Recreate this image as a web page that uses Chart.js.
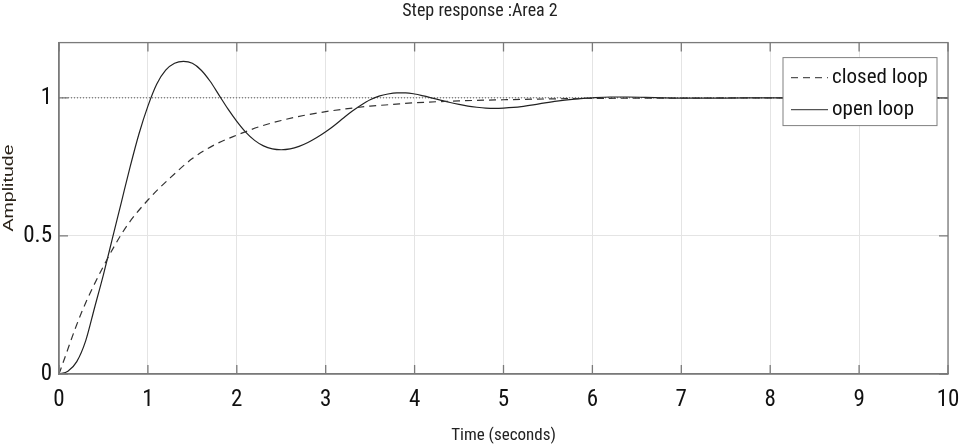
<!DOCTYPE html>
<html><head><meta charset="utf-8">
<script src="https://cdn.jsdelivr.net/npm/chart.js@4.4.0/dist/chart.umd.min.js"></script>
<style>html,body{margin:0;padding:0;background:#fff}#wrap{width:960px;height:448px;position:relative}</style>
</head><body><div id="wrap"><canvas id="c" width="960" height="448"></canvas></div>
<script>
const chartTitle = 'Step response :Area 2';
const xAxisLabel = 'Time (seconds)';
const yAxisLabel = 'Amplitude';
const seriesNames = ['closed loop', 'open loop'];
const xTickValues = [0, 1, 2, 3, 4, 5, 6, 7, 8, 9, 10];
const yTickValues = [0, 0.5, 1];
const referenceLevel = 1;

const closedTime = [0,0.25,0.5,0.75,1,1.25,1.5,1.75,2,2.25,2.5,2.75,3,3.25,3.5,3.75,4,4.5,5,5.5,6,7,8,9,10];
const closedLoop = [0,0.22,0.39,0.53,0.63,0.71,0.78,0.83,0.865,0.895,0.918,0.936,0.95,0.961,0.97,0.976,0.982,0.989,0.993,0.996,0.998,0.999,1.0,1.0,1.0];

const openTime = [0,0.1,0.2,0.3,0.4,0.5,0.6,0.7,0.8,0.9,
  1.0,1.1,1.2,1.3,1.4,1.5,1.6,1.7,1.8,1.9,
  2.0,2.1,2.2,2.3,2.4,2.5,2.6,2.7,2.8,2.9,
  3.0,3.1,3.2,3.3,3.4,3.5,3.6,3.7,3.8,3.9,
  4.0,4.1,4.2,4.3,4.4,4.5,4.6,4.7,4.8,4.9,
  5.0,5.2,5.4,5.6,5.8,6.0,6.2,6.4,6.6,6.8,7.0,7.5,8.0,8.5,9.0,9.5,10];
const openLoop = [0,0.01,0.045,0.12,0.24,0.36,0.49,0.62,0.75,0.87,
  0.97,1.05,1.10,1.125,1.132,1.125,1.10,1.06,1.01,0.96,
  0.915,0.876,0.846,0.826,0.815,0.812,0.815,0.824,0.838,0.856,
  0.877,0.901,0.927,0.952,0.974,0.993,1.006,1.014,1.018,1.018,
  1.014,1.007,0.999,0.991,0.983,0.976,0.970,0.966,0.963,0.962,
  0.963,0.968,0.978,0.988,0.995,1.0,1.003,1.003,1.002,1.0,0.999,0.999,1.0,1.0,1.0,1.0,1.0];

const NARROW = '"Liberation Sans Narrow", "Arial Narrow", "Roboto Condensed", "DejaVu Sans Condensed", "Liberation Sans", sans-serif';
const SANS = '"Liberation Sans", Arial, sans-serif';

const toPoints = (xs, ys) => xs.map((x, i) => ({x: x, y: ys[i]}));

const frame = {
  id: 'matlabFrame',
  afterDatasetsDraw(chart) {
    const ctx = chart.ctx;
    const {left, right, top, bottom} = chart.chartArea;
    const xs = chart.scales.x, ys = chart.scales.y;
    ctx.save();
    ctx.strokeStyle = '#7a7a7a';
    ctx.lineWidth = 1.3;
    ctx.strokeRect(left, top, right - left, bottom - top);
    ctx.beginPath();
    xTickValues.forEach(v => {
      const p = xs.getPixelForValue(v);
      ctx.moveTo(p, bottom); ctx.lineTo(p, bottom - 9);
      ctx.moveTo(p, top); ctx.lineTo(p, top + 9);
    });
    yTickValues.forEach(v => {
      const p = ys.getPixelForValue(v);
      ctx.moveTo(left, p); ctx.lineTo(left + 9, p);
      ctx.moveTo(right, p); ctx.lineTo(right - 9, p);
    });
    ctx.stroke();

    // legend box
    const bx = right - 165, by = top + 15, bw = 154, bh = 68;
    ctx.fillStyle = '#ffffff';
    ctx.fillRect(bx, by, bw, bh);
    ctx.strokeStyle = '#808080';
    ctx.lineWidth = 1;
    ctx.strokeRect(bx, by, bw, bh);
    seriesNames.forEach((name, i) => {
      const ds = chart.data.datasets.find(d => d.label === name);
      const cy = by + 20 + i * 32;
      ctx.save();
      ctx.strokeStyle = '#555';
      ctx.lineWidth = 1.2;
      ctx.setLineDash(ds.borderDash || []);
      ctx.beginPath();
      ctx.moveTo(bx + 8, cy); ctx.lineTo(bx + 45, cy);
      ctx.stroke();
      ctx.restore();
      ctx.fillStyle = '#111';
      ctx.font = '21px ' + NARROW;
      ctx.textAlign = 'left';
      ctx.textBaseline = 'middle';
      ctx.fillText(name, bx + 49, cy);
    });

    // y axis label
    ctx.save();
    ctx.translate(9, 188);
    ctx.rotate(-Math.PI / 2);
    ctx.scale(1.4, 1);
    ctx.fillStyle = '#2a2218';
    ctx.font = '14px ' + SANS;
    ctx.textAlign = 'center';
    ctx.textBaseline = 'middle';
    ctx.fillText(yAxisLabel, 0, 0);
    ctx.restore();
    ctx.restore();
  }
};

new Chart(document.getElementById('c'), {
  type: 'line',
  data: {
    datasets: [
      {
        label: seriesNames[0],
        data: toPoints(closedTime, closedLoop),
        borderColor: '#333',
        borderWidth: 1.2,
        borderDash: [7, 5],
        pointRadius: 0,
        cubicInterpolationMode: 'monotone',
        fill: false
      },
      {
        label: seriesNames[1],
        data: toPoints(openTime, openLoop),
        borderColor: '#222',
        borderWidth: 1.2,
        pointRadius: 0,
        cubicInterpolationMode: 'monotone',
        fill: false
      },
      {
        label: 'reference',
        data: [{x: xTickValues[0], y: referenceLevel}, {x: xTickValues[xTickValues.length - 1], y: referenceLevel}],
        borderColor: '#555',
        borderWidth: 1,
        borderDash: [1, 2],
        pointRadius: 0,
        fill: false
      }
    ]
  },
  options: {
    responsive: false,
    devicePixelRatio: 1,
    animation: false,
    layout: {padding: {left: 0, right: 0, top: 0, bottom: 0}},
    plugins: {
      legend: {display: false},
      tooltip: {enabled: false},
      title: {
        display: true,
        text: chartTitle,
        color: '#222',
        font: {family: NARROW, size: 18, weight: 'normal'},
        padding: {top: 1, bottom: 20}
      }
    },
    scales: {
      x: {
        type: 'linear',
        min: 0, max: 10,
        afterBuildTicks: s => { s.ticks = xTickValues.map(v => ({value: v})); },
        afterFit: s => { s.height = 74; s.paddingRight = 12; s.paddingLeft = 0; },
        grid: {color: '#e4e4e4', lineWidth: 1, drawTicks: false},
        border: {color: '#7a7a7a', width: 1.3},
        ticks: {color: '#111', font: {family: NARROW, size: 23}, padding: 12, maxRotation: 0, callback: v => String(v)},
        title: {display: true, text: xAxisLabel, color: '#222', font: {family: NARROW, size: 17}, padding: {top: 0, bottom: 2}}
      },
      y: {
        min: 0, max: 1.2,
        afterBuildTicks: s => { s.ticks = yTickValues.map(v => ({value: v})); },
        afterFit: s => { s.width = 59; },
        grid: {color: '#e4e4e4', lineWidth: 1, drawTicks: false},
        border: {color: '#7a7a7a', width: 1.3},
        ticks: {color: '#111', font: {family: NARROW, size: 23}, padding: 7, callback: v => String(v)}
      }
    }
  },
  plugins: [frame]
});
</script>
</body></html>
